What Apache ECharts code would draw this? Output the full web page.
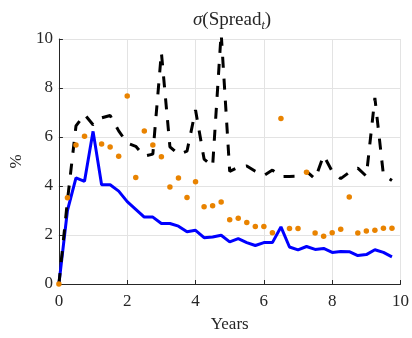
<!DOCTYPE html>
<html>
<head>
<meta charset="utf-8">
<script src="https://cdn.jsdelivr.net/npm/echarts@6/dist/echarts.min.js"></script>
<style>
html,body{margin:0;padding:0;background:#fff;}
#chart{width:412px;height:338px;}
</style>
</head>
<body>
<div id="chart"></div>
<script>
// Horizon in years (quarterly)
const years = [0, 0.25, 0.5, 0.75, 1, 1.25, 1.5, 1.75, 2, 2.25, 2.5, 2.75, 3, 3.25, 3.5, 3.75,
  4, 4.25, 4.5, 4.75, 5, 5.25, 5.5, 5.75, 6, 6.25, 6.5, 6.75, 7, 7.25, 7.5, 7.75,
  8, 8.25, 8.5, 8.75, 9, 9.25, 9.5, 9.75];
// Blue solid line
const blueLine = [0, 3.0, 4.33, 4.19, 6.23, 4.05, 4.05, 3.79, 3.36, 3.05, 2.73, 2.73, 2.47, 2.47, 2.36, 2.13,
  2.19, 1.89, 1.92, 1.99, 1.72, 1.85, 1.69, 1.57, 1.69, 1.69, 2.33, 1.51, 1.39, 1.53, 1.41, 1.45,
  1.29, 1.33, 1.32, 1.16, 1.20, 1.40, 1.29, 1.11];
// Black dashed line
const blackDashed = [0, 3.4, 6.45, 6.92, 6.5, 6.78, 6.88, 6.25, 5.75, 5.62, 5.22, 5.3, 9.45, 5.6, 5.29, 5.42,
  7.1, 5.1, 4.8, 10.25, 4.6, 4.77, 4.82, 4.6, 4.43, 4.65, 4.38, 4.39, 4.4, 4.6, 4.29, 5.25,
  4.6, 4.3, 4.56, 4.73, 4.4, 7.6, 4.45, 4.22];
// Orange dots
const orangeDots = [0, 3.52, 5.67, 6.03, null, 5.71, 5.59, 5.21, 7.67, 4.35, 6.24, 5.67, 5.19, 3.96, 4.33, 3.53,
  4.17, 3.15, 3.19, 3.35, 2.62, 2.68, 2.51, 2.35, 2.35, 2.09, 6.76, 2.27, 2.27, 4.56, 2.08, 1.95,
  2.09, 2.23, 3.55, 2.08, 2.16, 2.19, 2.28, 2.28];
const xTicks = [0, 2, 4, 6, 8, 10];
const yTicks = [0, 2, 4, 6, 8, 10];

const pairs = vals => years.map((t, i) => [t, vals[i] === null ? '-' : vals[i]]);
const FONT = '"Liberation Serif", "DejaVu Serif", serif';
const axisCommon = {
  type: 'value',
  min: 0, max: 10, interval: 2,
  axisLine: {show: true, lineStyle: {color: '#262626', width: 1}},
  axisTick: {show: true, inside: true, length: 4, lineStyle: {color: '#262626'}},
  splitLine: {show: true, lineStyle: {color: '#e3e3e3', width: 1}},
  nameTextStyle: {fontFamily: FONT, fontSize: 17, color: '#262626'}
};

const chart = echarts.init(document.getElementById('chart'), null, {renderer: 'canvas'});
chart.setOption({
  animation: false,
  backgroundColor: '#fff',
  title: {
    text: '{s|σ}{a|(Spread}{b|t}{a|)}',
    left: 227, top: 3, textAlign: 'center',
    textStyle: {
      fontWeight: 'normal',
      rich: {
        s: {fontFamily: FONT, fontSize: 19, fontStyle: 'italic', fontWeight: 'normal', color: '#262626', lineHeight: 24},
        a: {fontFamily: FONT, fontSize: 19, fontWeight: 'normal', color: '#262626', lineHeight: 24},
        b: {fontFamily: FONT, fontSize: 12, fontStyle: 'italic', fontWeight: 'normal', color: '#262626', lineHeight: 24, verticalAlign: 'bottom', padding: [10, 0, 0, 0]}
      }
    }
  },
  grid: {left: 53, right: 11, top: 39, bottom: 49, containLabel: false},
  xAxis: Object.assign({}, axisCommon, {
    name: 'Years', nameLocation: 'middle', nameGap: 32,
    axisLabel: {fontFamily: FONT, fontSize: 17, color: '#262626', margin: 9,
      formatter: v => xTicks.includes(v) ? String(v) : ''}
  }),
  yAxis: Object.assign({}, axisCommon, {
    name: '%', nameLocation: 'middle', nameGap: 22, nameRotate: 90,
    axisLabel: {fontFamily: FONT, fontSize: 17, color: '#262626', margin: 6,
      formatter: v => yTicks.includes(v) ? String(v) : ''}
  }),
  series: [
    {
      type: 'line', data: pairs(blueLine), showSymbol: false, symbol: 'none',
      lineStyle: {color: '#0000ff', width: 3}, clip: true, z: 2
    },
    {
      type: 'line', data: pairs(blackDashed), showSymbol: false, symbol: 'none',
      lineStyle: {color: '#000000', width: 3, type: [11, 11], cap: 'butt'}, clip: true, z: 3
    },
    {
      type: 'scatter', data: pairs(orangeDots), symbol: 'circle', symbolSize: 5.5,
      itemStyle: {color: '#e98300', opacity: 1}, clip: false, z: 4
    }
  ]
});
</script>
</body>
</html>
